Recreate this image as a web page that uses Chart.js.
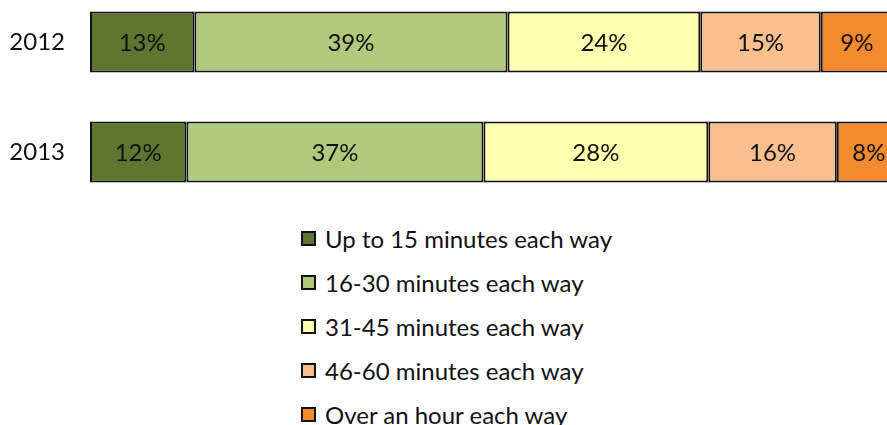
<!DOCTYPE html>
<html>
<head>
<meta charset="utf-8">
<script src="https://cdn.jsdelivr.net/npm/chart.js@4"></script>
<style>
  html, body { margin: 0; padding: 0; background: #fff; overflow: hidden; }
  body { width: 887px; height: 425px; position: relative; font-family: Lato, "Open Sans", sans-serif; }
  #grafico { position: absolute; left: 0; top: -13px; }
  #legenda { position: absolute; left: 301px; top: 216px; margin: 0; padding: 0; list-style: none; }
  #legenda li { height: 44px; display: flex; align-items: center; font-size: 24px; color: #111; }
  #legenda span.cx { width: 11px; height: 11px; border: 2px solid #111; margin-right: 9px; flex: none; }
</style>
</head>
<body>
<canvas id="grafico" width="893" height="220"></canvas>
<ul id="legenda"></ul>
<script>
// anos e faixas de tempo de deslocamento
const anos = ['2012', '2013'];
const faixas = [
  'Up to 15 minutes each way',
  '16-30 minutes each way',
  '31-45 minutes each way',
  '46-60 minutes each way',
  'Over an hour each way'
];
// percentuais por faixa, na ordem dos anos
const ate15 = [13, 12];
const de16a30 = [39, 37];
const de31a45 = [24, 28];
const de46a60 = [15, 16];
const maisDeUmaHora = [9, 8];
const cores = ['#5f7530', '#b0c97d', '#ffffb0', '#f9bf8f', '#f38a2f'];

const series = [ate15, de16a30, de31a45, de46a60, maisDeUmaHora];
const fonte = 'Lato, "Open Sans", sans-serif';

// escreve o percentual no meio de cada barra
const rotulosBarras = {
  id: 'rotulosBarras',
  afterDatasetsDraw(chart) {
    const ctx = chart.ctx;
    ctx.save();
    ctx.font = '24px ' + fonte;
    ctx.fillStyle = '#111';
    ctx.textAlign = 'center';
    ctx.textBaseline = 'middle';
    chart.data.datasets.forEach((ds, i) => {
      chart.getDatasetMeta(i).data.forEach((barra, j) => {
        const p = barra.getProps(['x', 'y', 'base'], true);
        ctx.fillText(ds.data[j] + '%', (p.x + p.base) / 2, p.y + 1);
      });
    });
    ctx.restore();
  }
};

const grafico = new Chart(document.getElementById('grafico'), {
  type: 'bar',
  data: {
    labels: anos,
    datasets: series.map((valores, i) => ({
      label: faixas[i],
      data: valores,
      backgroundColor: cores[i],
      borderColor: '#111',
      borderWidth: 2,
      borderSkipped: false,
      barPercentage: 0.555,
      categoryPercentage: 1
    }))
  },
  options: {
    indexAxis: 'y',
    responsive: false,
    animation: false,
    layout: { padding: 0 },
    plugins: {
      legend: { display: false },
      tooltip: { enabled: false }
    },
    scales: {
      x: {
        stacked: true,
        min: 0,
        max: 100,
        display: false
      },
      y: {
        stacked: true,
        grid: { display: false, drawTicks: false },
        border: { display: false },
        ticks: {
          padding: 25,
          color: '#111',
          font: { family: fonte, size: 24 }
        },
        // largura fixa e sem folga vertical extra
        afterFit(escala) {
          escala.width = 90;
          escala.paddingTop = 0;
          escala.paddingBottom = 0;
        }
      }
    }
  },
  plugins: [rotulosBarras]
});

// legenda em coluna abaixo do gráfico
const legenda = document.getElementById('legenda');
grafico.data.datasets.forEach(ds => {
  legenda.innerHTML += `<li><span class="cx" style="background:${ds.backgroundColor}"></span>${ds.label}</li>`;
});
</script>
</body>
</html>
